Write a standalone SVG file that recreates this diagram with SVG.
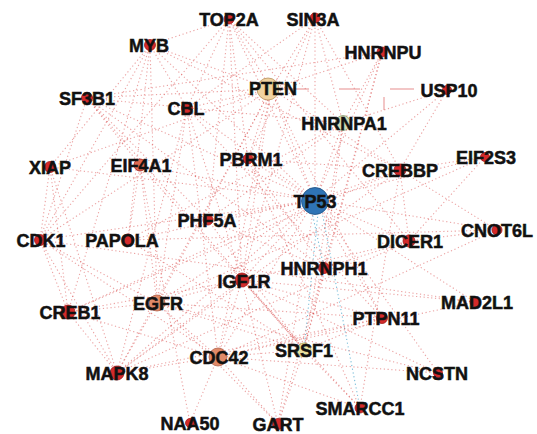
<svg xmlns="http://www.w3.org/2000/svg" width="537" height="434" viewBox="0 0 537 434">
<style>
.bg{fill:#ffffff}
#edges line{stroke:#d94545;stroke-width:1.1;stroke-dasharray:1.2 2.6;opacity:0.5;fill:none}
#edges line.b{stroke:#5aaed0;opacity:0.8}
#edges line.s{stroke:#e07070;stroke-dasharray:none;opacity:0.8;stroke-width:1}
.n circle{fill:#d42a2a;stroke:#a01818;stroke-width:0.8}
.n text{font-family:"Liberation Sans",Arial,sans-serif;font-weight:bold;font-size:18px;fill:#111;stroke:#111;stroke-width:0.5;text-anchor:middle}
#PTEN circle{fill:#f0d3a0;stroke:#b89060}
#HNRNPA1 circle{fill:#d6dcb4;stroke:#8c9a70}
#TP53 circle{fill:#2f74b5;stroke:#1d4f82}
#EGFR circle,#CDC42 circle{fill:#e08a68;stroke:#b0604a}
#EIF4A1 circle{fill:#e06a50}
#SRSF1 circle{fill:#e8e0a0;stroke:#a89a50}
</style>
<rect class="bg" x="0" y="0" width="537" height="434"/>
<g id="edges">
<line x1="315" y1="200" x2="229" y2="19"/>
<line x1="315" y1="200" x2="315" y2="18"/>
<line x1="315" y1="200" x2="150" y2="45"/>
<line x1="315" y1="200" x2="382" y2="52"/>
<line x1="315" y1="200" x2="271" y2="89"/>
<line x1="315" y1="200" x2="447" y2="90"/>
<line x1="315" y1="200" x2="187" y2="108"/>
<line x1="315" y1="200" x2="343" y2="123"/>
<line x1="315" y1="200" x2="140" y2="165"/>
<line x1="315" y1="200" x2="248" y2="159"/>
<line x1="315" y1="200" x2="400" y2="170"/>
<line x1="315" y1="200" x2="485" y2="157"/>
<line x1="315" y1="200" x2="208" y2="220"/>
<line x1="315" y1="200" x2="40" y2="240"/>
<line x1="315" y1="200" x2="128" y2="240"/>
<line x1="315" y1="200" x2="497" y2="230"/>
<line x1="315" y1="200" x2="409" y2="241"/>
<line x1="315" y1="200" x2="242" y2="280"/>
<line x1="315" y1="200" x2="68" y2="312"/>
<line x1="315" y1="200" x2="157" y2="303"/>
<line x1="315" y1="200" x2="475" y2="302"/>
<line x1="315" y1="200" x2="382" y2="318"/>
<line x1="315" y1="200" x2="218" y2="357"/>
<line x1="315" y1="200" x2="117" y2="373"/>
<line x1="315" y1="200" x2="438" y2="373"/>
<line x1="315" y1="200" x2="278" y2="424"/>
<line x1="315" y1="200" x2="50" y2="167"/>
<line x1="315" y1="200" x2="87" y2="98"/>
<line class="b" x1="312" y1="212" x2="324" y2="268"/>
<line class="b" x1="318" y1="213" x2="304" y2="350"/>
<line class="b" x1="322" y1="212" x2="360" y2="408"/>
<line x1="150" y1="45" x2="229" y2="19"/>
<line x1="150" y1="45" x2="271" y2="89"/>
<line x1="150" y1="45" x2="187" y2="108"/>
<line x1="150" y1="45" x2="50" y2="167"/>
<line x1="150" y1="45" x2="40" y2="240"/>
<line x1="150" y1="45" x2="157" y2="303"/>
<line x1="150" y1="45" x2="68" y2="312"/>
<line x1="150" y1="45" x2="400" y2="170"/>
<line x1="150" y1="45" x2="128" y2="240"/>
<line x1="229" y1="19" x2="271" y2="89"/>
<line x1="229" y1="19" x2="187" y2="108"/>
<line x1="229" y1="19" x2="248" y2="159"/>
<line x1="229" y1="19" x2="343" y2="123"/>
<line x1="229" y1="19" x2="208" y2="220"/>
<line x1="229" y1="19" x2="409" y2="241"/>
<line x1="229" y1="19" x2="40" y2="240"/>
<line x1="229" y1="19" x2="242" y2="280"/>
<line x1="315" y1="18" x2="271" y2="89"/>
<line x1="315" y1="18" x2="400" y2="170"/>
<line x1="315" y1="18" x2="343" y2="123"/>
<line x1="315" y1="18" x2="248" y2="159"/>
<line x1="315" y1="18" x2="242" y2="280"/>
<line x1="315" y1="18" x2="187" y2="108"/>
<line x1="382" y1="52" x2="343" y2="123"/>
<line x1="382" y1="52" x2="271" y2="89"/>
<line x1="382" y1="52" x2="304" y2="350"/>
<line x1="382" y1="52" x2="324" y2="268"/>
<line x1="382" y1="52" x2="87" y2="98"/>
<line class="s" x1="282" y1="89" x2="309" y2="89"/>
<line class="s" x1="339" y1="89" x2="360" y2="89"/>
<line class="s" x1="390" y1="89" x2="414" y2="89"/>
<line class="s" x1="384" y1="97" x2="384" y2="110"/>
<line x1="271" y1="89" x2="187" y2="108"/>
<line x1="271" y1="89" x2="157" y2="303"/>
<line x1="271" y1="89" x2="242" y2="280"/>
<line x1="271" y1="89" x2="382" y2="318"/>
<line x1="271" y1="89" x2="218" y2="357"/>
<line x1="271" y1="89" x2="400" y2="170"/>
<line x1="271" y1="89" x2="50" y2="167"/>
<line x1="271" y1="89" x2="117" y2="373"/>
<line x1="271" y1="89" x2="40" y2="240"/>
<line x1="271" y1="89" x2="248" y2="159"/>
<line x1="271" y1="89" x2="87" y2="98"/>
<line x1="447" y1="90" x2="343" y2="123"/>
<line x1="447" y1="90" x2="400" y2="170"/>
<line x1="87" y1="98" x2="208" y2="220"/>
<line x1="87" y1="98" x2="304" y2="350"/>
<line x1="87" y1="98" x2="343" y2="123"/>
<line x1="87" y1="98" x2="40" y2="240"/>
<line x1="87" y1="98" x2="140" y2="165"/>
<line x1="87" y1="98" x2="324" y2="268"/>
<line x1="187" y1="108" x2="157" y2="303"/>
<line x1="187" y1="108" x2="242" y2="280"/>
<line x1="187" y1="108" x2="218" y2="357"/>
<line x1="187" y1="108" x2="382" y2="318"/>
<line x1="187" y1="108" x2="117" y2="373"/>
<line x1="343" y1="123" x2="304" y2="350"/>
<line x1="343" y1="123" x2="324" y2="268"/>
<line x1="343" y1="123" x2="128" y2="240"/>
<line x1="343" y1="123" x2="208" y2="220"/>
<line x1="50" y1="167" x2="40" y2="240"/>
<line x1="50" y1="167" x2="117" y2="373"/>
<line x1="50" y1="167" x2="68" y2="312"/>
<line x1="140" y1="165" x2="128" y2="240"/>
<line x1="140" y1="165" x2="304" y2="350"/>
<line x1="140" y1="165" x2="157" y2="303"/>
<line x1="140" y1="165" x2="190" y2="423"/>
<line x1="248" y1="159" x2="360" y2="408"/>
<line x1="248" y1="159" x2="400" y2="170"/>
<line x1="248" y1="159" x2="324" y2="268"/>
<line x1="400" y1="170" x2="68" y2="312"/>
<line x1="400" y1="170" x2="409" y2="241"/>
<line x1="400" y1="170" x2="485" y2="157"/>
<line x1="400" y1="170" x2="117" y2="373"/>
<line x1="400" y1="170" x2="360" y2="408"/>
<line x1="400" y1="170" x2="497" y2="230"/>
<line x1="485" y1="157" x2="409" y2="241"/>
<line x1="485" y1="157" x2="157" y2="303"/>
<line x1="208" y1="220" x2="304" y2="350"/>
<line x1="208" y1="220" x2="324" y2="268"/>
<line x1="40" y1="240" x2="68" y2="312"/>
<line x1="40" y1="240" x2="117" y2="373"/>
<line x1="40" y1="240" x2="157" y2="303"/>
<line x1="40" y1="240" x2="475" y2="302"/>
<line x1="40" y1="240" x2="218" y2="357"/>
<line x1="128" y1="240" x2="304" y2="350"/>
<line x1="128" y1="240" x2="497" y2="230"/>
<line x1="497" y1="230" x2="409" y2="241"/>
<line x1="497" y1="230" x2="218" y2="357"/>
<line x1="409" y1="241" x2="324" y2="268"/>
<line x1="409" y1="241" x2="242" y2="280"/>
<line x1="409" y1="241" x2="117" y2="373"/>
<line x1="324" y1="268" x2="304" y2="350"/>
<line x1="324" y1="268" x2="278" y2="424"/>
<line x1="242" y1="280" x2="157" y2="303"/>
<line x1="242" y1="280" x2="117" y2="373"/>
<line x1="242" y1="280" x2="218" y2="357"/>
<line x1="242" y1="280" x2="382" y2="318"/>
<line x1="242" y1="280" x2="68" y2="312"/>
<line x1="242" y1="280" x2="304" y2="350"/>
<line x1="242" y1="280" x2="475" y2="302"/>
<line x1="157" y1="303" x2="68" y2="312"/>
<line x1="157" y1="303" x2="117" y2="373"/>
<line x1="157" y1="303" x2="218" y2="357"/>
<line x1="157" y1="303" x2="382" y2="318"/>
<line x1="157" y1="303" x2="304" y2="350"/>
<line x1="157" y1="303" x2="438" y2="373"/>
<line x1="475" y1="302" x2="218" y2="357"/>
<line x1="382" y1="318" x2="304" y2="350"/>
<line x1="382" y1="318" x2="218" y2="357"/>
<line x1="382" y1="318" x2="117" y2="373"/>
<line x1="304" y1="350" x2="278" y2="424"/>
<line x1="304" y1="350" x2="360" y2="408"/>
<line x1="304" y1="350" x2="218" y2="357"/>
<line x1="218" y1="357" x2="117" y2="373"/>
<line x1="218" y1="357" x2="190" y2="423"/>
<line x1="218" y1="357" x2="278" y2="424"/>
<line x1="218" y1="357" x2="68" y2="312"/>
<line x1="117" y1="373" x2="68" y2="312"/>
<line x1="438" y1="373" x2="242" y2="280"/>
<line x1="438" y1="373" x2="218" y2="357"/>
<line x1="360" y1="408" x2="242" y2="280"/>
<line x1="360" y1="408" x2="218" y2="357"/>
<line x1="278" y1="424" x2="242" y2="280"/>
<line x1="278" y1="424" x2="157" y2="303"/>
</g>
<g id="TOP2A" class="n"><circle cx="229" cy="19" r="5"/><text x="229" y="25.5">TOP2A</text></g>
<g id="SIN3A" class="n"><circle cx="315" cy="18" r="5"/><text x="313" y="25.5">SIN3A</text></g>
<g id="MYB" class="n"><circle cx="150" cy="45" r="5.5"/><text x="149" y="52">MYB</text></g>
<g id="HNRNPU" class="n"><circle cx="382" cy="52" r="5"/><text x="383" y="58.5">HNRNPU</text></g>
<g id="SF3B1" class="n"><circle cx="87" cy="98" r="5.5"/><text x="87" y="104.5">SF3B1</text></g>
<g id="PTEN" class="n"><circle cx="268" cy="89" r="11"/><text x="273" y="95">PTEN</text></g>
<g id="USP10" class="n"><circle cx="447" cy="90" r="4.5"/><text x="449" y="96.5">USP10</text></g>
<g id="CBL" class="n"><circle cx="187" cy="108" r="5.5"/><text x="186" y="114.5">CBL</text></g>
<g id="HNRNPA1" class="n"><circle cx="343" cy="123" r="7.5"/><text x="344" y="130">HNRNPA1</text></g>
<g id="XIAP" class="n"><circle cx="50" cy="167" r="5.5"/><text x="50" y="173.5">XIAP</text></g>
<g id="EIF4A1" class="n"><circle cx="140" cy="165" r="6"/><text x="141" y="171.5">EIF4A1</text></g>
<g id="PBRM1" class="n"><circle cx="248" cy="159" r="5"/><text x="251" y="165.5">PBRM1</text></g>
<g id="CREBBP" class="n"><circle cx="400" cy="170" r="6"/><text x="400" y="176.5">CREBBP</text></g>
<g id="EIF2S3" class="n"><circle cx="485" cy="157" r="4.5"/><text x="486" y="164">EIF2S3</text></g>
<g id="TP53" class="n"><circle cx="315" cy="201" r="13.5"/><text x="315" y="208">TP53</text></g>
<g id="PHF5A" class="n"><circle cx="208" cy="220" r="5"/><text x="207" y="226.5">PHF5A</text></g>
<g id="CDK1" class="n"><circle cx="40" cy="240" r="5.5"/><text x="41" y="247">CDK1</text></g>
<g id="PAPOLA" class="n"><circle cx="128" cy="240" r="6"/><text x="122" y="246.5">PAPOLA</text></g>
<g id="CNOT6L" class="n"><circle cx="497" cy="230" r="5"/><text x="497" y="236.5">CNOT6L</text></g>
<g id="DICER1" class="n"><circle cx="409" cy="241" r="6"/><text x="410" y="247.5">DICER1</text></g>
<g id="HNRNPH1" class="n"><circle cx="324" cy="268" r="5.5"/><text x="324" y="274.5">HNRNPH1</text></g>
<g id="IGF1R" class="n"><circle cx="242" cy="280" r="7"/><text x="244" y="288">IGF1R</text></g>
<g id="CREB1" class="n"><circle cx="68" cy="312" r="7"/><text x="70" y="319">CREB1</text></g>
<g id="EGFR" class="n"><circle cx="157" cy="303" r="8"/><text x="158" y="309.5">EGFR</text></g>
<g id="MAD2L1" class="n"><circle cx="475" cy="302" r="5"/><text x="477" y="308.5">MAD2L1</text></g>
<g id="PTPN11" class="n"><circle cx="382" cy="318" r="5.5"/><text x="386" y="324.5">PTPN11</text></g>
<g id="SRSF1" class="n"><circle cx="304" cy="350" r="7"/><text x="304" y="356.5">SRSF1</text></g>
<g id="CDC42" class="n"><circle cx="218" cy="357" r="9"/><text x="219" y="363.5">CDC42</text></g>
<g id="MAPK8" class="n"><circle cx="117" cy="373" r="7"/><text x="117" y="380">MAPK8</text></g>
<g id="NCSTN" class="n"><circle cx="438" cy="373" r="4.5"/><text x="437" y="379.5">NCSTN</text></g>
<g id="SMARCC1" class="n"><circle cx="360" cy="408" r="5"/><text x="360" y="414.5">SMARCC1</text></g>
<g id="NAA50" class="n"><circle cx="190" cy="423" r="4.5"/><text x="190" y="429.5">NAA50</text></g>
<g id="GART" class="n"><circle cx="278" cy="424" r="5.5"/><text x="278" y="430.5">GART</text></g>
</svg>
